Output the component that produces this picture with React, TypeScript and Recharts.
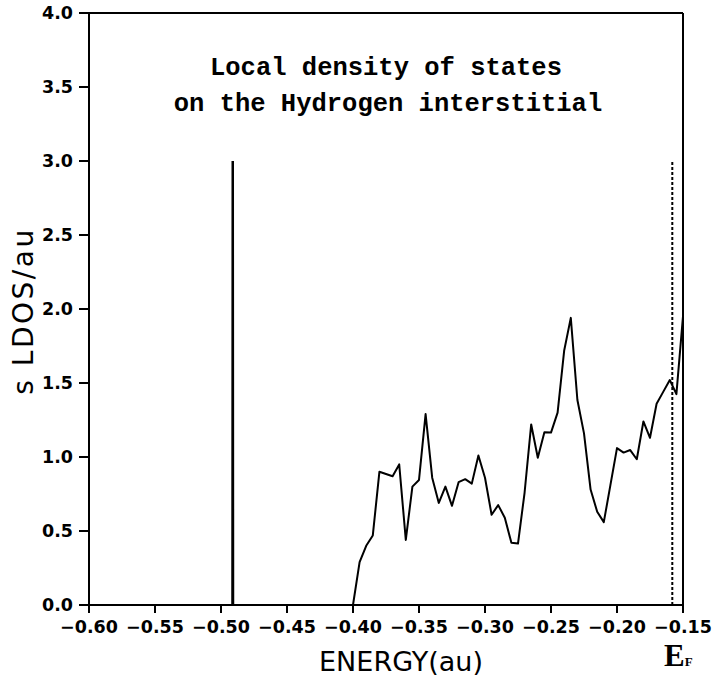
import React from 'react'
import { LineChart, Line, XAxis, YAxis, ReferenceLine } from 'recharts'

// s-like local density of states on the H interstitial
const energy = [
  -0.4, -0.395, -0.39, -0.385, -0.38, -0.375, -0.37, -0.365, -0.36, -0.355,
  -0.35, -0.345, -0.34, -0.335, -0.33, -0.325, -0.32, -0.315, -0.31, -0.305,
  -0.3, -0.295, -0.29, -0.285, -0.28, -0.275, -0.27, -0.265, -0.26, -0.255,
  -0.25, -0.245, -0.24, -0.235, -0.23, -0.225, -0.22, -0.215, -0.21, -0.205,
  -0.2, -0.195, -0.19, -0.185, -0.18, -0.175, -0.17, -0.165, -0.16, -0.155,
  -0.15,
]
const ldos = [
  0, 0.29, 0.4, 0.47, 0.9, 0.885, 0.87, 0.95, 0.44, 0.8,
  0.845, 1.29, 0.86, 0.69, 0.8, 0.67, 0.83, 0.85, 0.82, 1.01,
  0.86, 0.61, 0.675, 0.59, 0.42, 0.415, 0.76, 1.22, 0.995, 1.167,
  1.165, 1.3, 1.72, 1.94, 1.385, 1.16, 0.78, 0.63, 0.56, 0.81,
  1.06, 1.03, 1.047, 0.985, 1.24, 1.13, 1.36, 1.44, 1.52, 1.425,
  1.95,
]

// bound state below the band (drawn as a narrow spike)
const peakEnergy = [-0.4913, -0.4911, -0.4909]
const peakLdos = [0, 3.0, 0]

// Fermi level marker
const fermiEnergy = [-0.1581, -0.1581]
const fermiLdos = [0, 3.0]

const xTicks = [-0.6, -0.55, -0.5, -0.45, -0.4, -0.35, -0.3, -0.25, -0.2, -0.15]
const yTicks = [0, 0.5, 1, 1.5, 2, 2.5, 3, 3.5, 4]

const toPoints = (xs: number[], ys: number[]) => xs.map((x, i) => ({ x, y: ys[i] }))

const bandData = toPoints(energy, ldos)
const peakData = toPoints(peakEnergy, peakLdos)
const fermiData = toPoints(fermiEnergy, fermiLdos)

const fmtX = (v: number) => (v < 0 ? '\u2212' : '') + Math.abs(v).toFixed(2)
const fmtY = (v: number) => v.toFixed(1)

const tickFont = { fontSize: 17.5, fill: '#000', fontFamily: 'DejaVu Sans', fontWeight: 'bold' }

export default function App() {
  return (
    <div style={{ position: 'relative', width: 713, height: 677, background: '#fff' }}>
      <style>{'body{margin:0}'}</style>
      <LineChart width={713} height={677} margin={{ top: 13, right: 30, bottom: 0, left: 0 }}>
        <XAxis
          type="number"
          dataKey="x"
          domain={[-0.6, -0.15]}
          ticks={xTicks}
          tickFormatter={fmtX}
          allowDataOverflow
          height={72}
          tickSize={8}
          tickMargin={8}
          stroke="#000"
          strokeWidth={2}
          tick={tickFont}
          interval={0}
        />
        <YAxis
          type="number"
          domain={[0, 4]}
          ticks={yTicks}
          tickFormatter={fmtY}
          allowDataOverflow
          width={89}
          tickSize={10}
          tickMargin={6}
          stroke="#000"
          strokeWidth={2}
          tick={tickFont}
          interval={0}
        />
        <ReferenceLine y={4} stroke="#000" strokeWidth={2} />
        <ReferenceLine x={-0.15} stroke="#000" strokeWidth={2} />
        <Line
          data={fermiData}
          dataKey="y"
          type="linear"
          stroke="#000"
          strokeWidth={2}
          strokeDasharray="3 2"
          dot={false}
          isAnimationActive={false}
        />
        <Line
          data={peakData}
          dataKey="y"
          type="linear"
          stroke="#000"
          strokeWidth={2.5}
          dot={false}
          isAnimationActive={false}
        />
        <Line
          data={bandData}
          dataKey="y"
          type="linear"
          stroke="#000"
          strokeWidth={2}
          strokeLinejoin="round"
          dot={false}
          isAnimationActive={false}
        />
      </LineChart>
      <svg
        width={713}
        height={677}
        style={{ position: 'absolute', left: 0, top: 0, pointerEvents: 'none' }}
      >
        <text x={386} y={75} textAnchor="middle" fontFamily="Liberation Mono" fontWeight="bold" fontSize={25.5}>
          Local density of states
        </text>
        <text x={388} y={111} textAnchor="middle" fontFamily="Liberation Mono" fontWeight="bold" fontSize={25.5}>
          on the Hydrogen interstitial
        </text>
        <text x={401} y={671} textAnchor="middle" fontFamily="DejaVu Sans" fill="#000" fontSize={27}>
          ENERGY(au)
        </text>
        <text
          x={33}
          y={311}
          textAnchor="middle"
          fontFamily="DejaVu Sans"
          fill="#000"
          fontSize={28}
          letterSpacing={2.5}
          transform="rotate(-90 33 311)"
        >
          s LDOS/au
        </text>
        <text x={664} y={666} fontFamily="Liberation Serif" fontWeight="bold" fontSize={31}>
          E<tspan fontSize={13}>F</tspan>
        </text>
      </svg>
    </div>
  )
}
